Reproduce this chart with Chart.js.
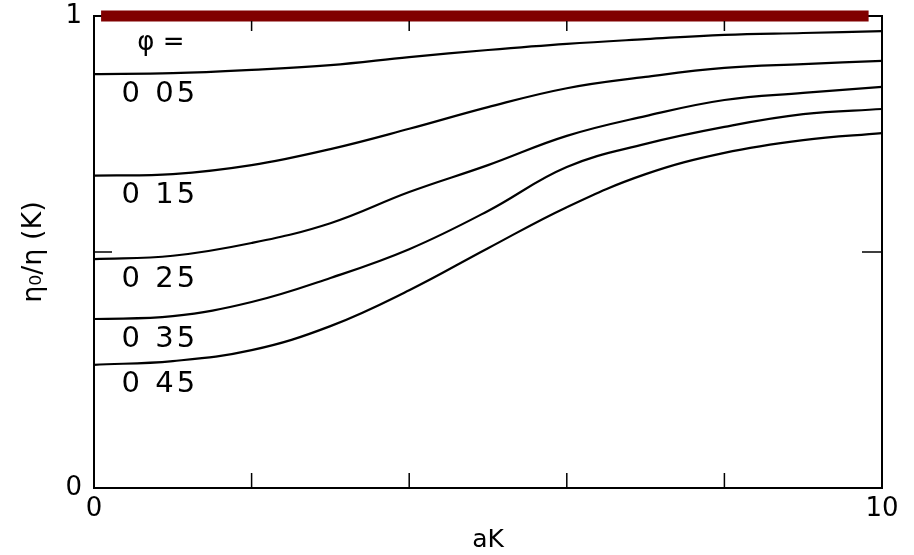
<!DOCTYPE html>
<html>
<head>
<meta charset="utf-8">
<script src="https://cdn.jsdelivr.net/npm/chart.js@4.4.1/dist/chart.umd.min.js"></script>
<style>
  html, body { margin: 0; padding: 0; background: #fff; }
  #wrap { width: 914px; height: 555px; }
</style>
</head>
<body>
<div id="wrap"><canvas id="viscChart"></canvas></div>
<script>
// aK values the curves were read at
const aK = [0, 1, 2, 3, 4, 5, 6, 7, 8, 9, 10];

// eta0 / eta(K)
const phi005 = [0.877, 0.879, 0.886, 0.896, 0.913, 0.928, 0.941, 0.951, 0.960, 0.964, 0.968];
const phi015 = [0.662, 0.665, 0.684, 0.718, 0.761, 0.807, 0.847, 0.871, 0.890, 0.898, 0.905];
const phi025 = [0.485, 0.492, 0.519, 0.561, 0.627, 0.684, 0.746, 0.788, 0.822, 0.837, 0.850];
const phi035 = [0.358, 0.364, 0.394, 0.445, 0.506, 0.587, 0.680, 0.729, 0.765, 0.792, 0.803];
const phi045 = [0.261, 0.269, 0.292, 0.343, 0.419, 0.508, 0.595, 0.665, 0.710, 0.737, 0.752];

const phiLabels = ['0 05', '0 15', '0 25', '0 35', '0 45'];

// the red bar along eta0/eta = 1
const barFrom = 0.09;
const barTo = 9.83;
const barLevel = 1;

// tick positions (only the ends get labels)
const xTicks = [2, 4, 6, 8];
const yTicks = [0.5];

const allSeries = [phi005, phi015, phi025, phi035, phi045];

function toPoints(values) {
    return values.map((v, i) => ({ x: aK[i], y: v }));
}

const lineDatasets = allSeries.map((vals, i) => ({
    label: phiLabels[i],
    data: toPoints(vals),
    borderColor: '#000',
    borderWidth: 2.2,
    pointRadius: 0,
    tension: 0.4,
    fill: false
}));

const barDataset = {
    label: 'bar',
    data: [{ x: barFrom, y: barLevel }, { x: barTo, y: barLevel }],
    borderColor: '#800000',
    borderWidth: 11,
    borderCapStyle: 'butt',
    pointRadius: 0,
    clip: false
};

const textFont = '"DejaVu Sans", sans-serif';

// frame goes under the data, ticks and phi labels on top
const framePlugin = {
    id: 'frame',
    beforeDatasetsDraw(chart) {
        const ctx = chart.ctx;
        const a = chart.chartArea;
        ctx.save();
        ctx.strokeStyle = '#000';
        ctx.lineWidth = 2;
        ctx.strokeRect(a.left, a.top, a.right - a.left, a.bottom - a.top);
        ctx.restore();
    },
    afterDatasetsDraw(chart) {
        const ctx = chart.ctx;
        const a = chart.chartArea;
        const xs = chart.scales.x;
        const ys = chart.scales.y;
        ctx.save();
        ctx.strokeStyle = '#000';
        ctx.lineWidth = 1.5;
        ctx.beginPath();
        xTicks.forEach(v => {
            const px = xs.getPixelForValue(v);
            ctx.moveTo(px, a.bottom);
            ctx.lineTo(px, a.bottom - 15);
            ctx.moveTo(px, a.top + 5);
            ctx.lineTo(px, a.top + 15);
        });
        yTicks.forEach(v => {
            const py = ys.getPixelForValue(v);
            ctx.moveTo(a.left, py);
            ctx.lineTo(a.left + 18, py);
            ctx.moveTo(a.right, py);
            ctx.lineTo(a.right - 20, py);
        });
        ctx.stroke();

        // curve labels sit just under each curve's start
        ctx.fillStyle = '#000';
        ctx.font = '29px ' + textFont;
        ctx.letterSpacing = '3px';
        ctx.textBaseline = 'middle';
        ctx.textAlign = 'left';
        const lx = xs.getPixelForValue(0.35);
        allSeries.forEach((vals, i) => {
            ctx.fillText(phiLabels[i], lx, ys.getPixelForValue(vals[0]) + 20);
        });
        ctx.letterSpacing = '0px';
        ctx.font = '26px ' + textFont;
        ctx.fillText('\u03C6 =', xs.getPixelForValue(0.55), ys.getPixelForValue(1) + 27);
        ctx.restore();
    }
};

const ctx = document.getElementById('viscChart').getContext('2d');
new Chart(ctx, {
    type: 'line',
    data: { datasets: lineDatasets.concat([barDataset]) },
    options: {
        responsive: true,
        maintainAspectRatio: false,
        animation: false,
        layout: { padding: { top: 16, right: 32, left: 0, bottom: 0 } },
        plugins: {
            legend: { display: false },
            tooltip: { enabled: false }
        },
        scales: {
            x: {
                type: 'linear',
                min: 0,
                max: 10,
                afterFit(scale) {
                    scale.height = 67;
                    scale.paddingLeft = 0;
                    scale.paddingRight = 0;
                },
                grid: { display: false, drawTicks: false },
                border: { display: false },
                ticks: {
                    stepSize: 2,
                    padding: 6,
                    color: '#000',
                    maxRotation: 0,
                    font: { family: textFont, size: 26 },
                    callback: v => (v === 0 || v === 10) ? String(v) : ''
                },
                title: {
                    display: true,
                    text: 'aK',
                    color: '#000',
                    padding: { top: 0, bottom: 0 },
                    font: { family: textFont, size: 25 }
                }
            },
            y: {
                min: 0,
                max: 1,
                afterFit(scale) {
                    scale.width = 94;
                    scale.paddingTop = 0;
                    scale.paddingBottom = 0;
                },
                grid: { display: false, drawTicks: false },
                border: { display: false },
                ticks: {
                    stepSize: 0.5,
                    padding: 12,
                    color: '#000',
                    font: { family: textFont, size: 26 },
                    callback: v => (v === 0 || v === 1) ? String(v) : ''
                },
                title: {
                    display: true,
                    text: '\u03B7\u2080/\u03B7 (K)',
                    color: '#000',
                    padding: { top: 18, bottom: 0 },
                    font: { family: textFont, size: 27 }
                }
            }
        }
    },
    plugins: [framePlugin]
});
</script>
</body>
</html>
